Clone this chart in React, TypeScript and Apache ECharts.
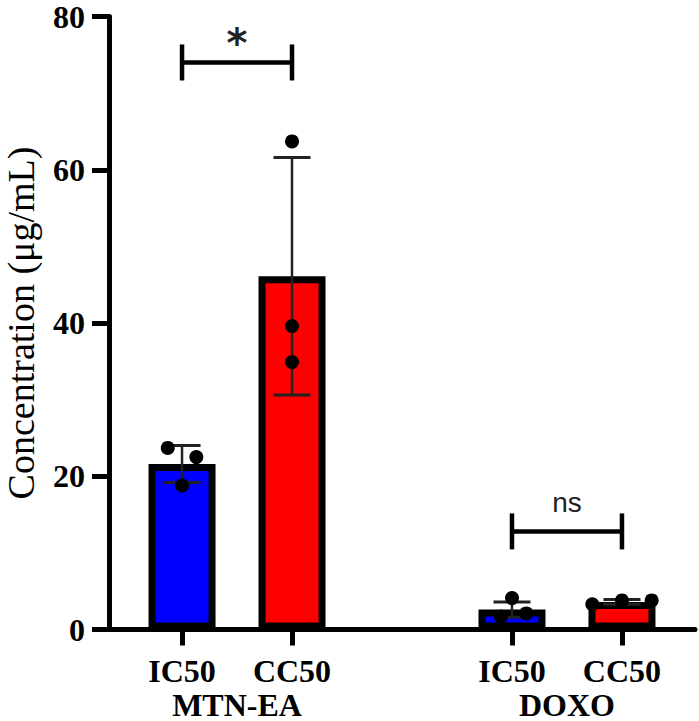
import React, { useEffect, useRef } from "react";
import * as echarts from "echarts";

// ---- data ----
const groups = ["MTN-EA", "DOXO"];
const measures = ["IC50", "CC50"];
const xPositions = [0, 1, 3, 4];
const barMeasures = ["IC50", "CC50", "IC50", "CC50"];
const barGroups = ["MTN-EA", "MTN-EA", "DOXO", "DOXO"];
const means = [21.6, 46.1, 2.6, 3.6];
const sds = [2.4, 15.5, 1.0, 0.3];
const replicates = [
  [23.7, 22.5, 18.8],
  [63.7, 39.6, 34.9],
  [4.1, 1.7, 2.1],
  [3.3, 3.8, 3.8],
];
const jitterOffsets = [
  [-0.13, 0.13, 0],
  [0, 0, 0],
  [0, -0.1, 0.13],
  [-0.27, 0, 0.27],
];
const sigFrom = [0, 3];
const sigTo = [1, 4];
const sigHeights = [74, 12.8];
const sigLabels = ["*", "ns"];
const yTicks = { min: 0, max: 80, interval: 20 };

const measureColors: Record<string, string> = { IC50: "#0000FF", CC50: "#FF0000" };
const SERIF = "'Liberation Serif', 'DejaVu Serif', serif";
const SANS = "'Liberation Sans', 'DejaVu Sans', sans-serif";

export default function App() {
  const ref = useRef<HTMLDivElement>(null);

  useEffect(() => {
    if (!ref.current) return;
    const chart = echarts.init(ref.current, undefined, { renderer: "svg" });

    const groupCenters = groups.map((g) => {
      const xs = xPositions.filter((_, i) => barGroups[i] === g);
      return xs.reduce((a, b) => a + b, 0) / xs.length;
    });
    const labelValues = [...xPositions, ...groupCenters];
    const labelFor = (v: number) => {
      const bi = xPositions.findIndex((x) => Math.abs(x - v) < 1e-6);
      if (bi >= 0) return barMeasures[bi];
      const gi = groupCenters.findIndex((x) => Math.abs(x - v) < 1e-6);
      if (gi >= 0) return "\n" + groups[gi];
      return "";
    };

    const scatterData: number[][] = [];
    replicates.forEach((vals, i) =>
      vals.forEach((v, j) => scatterData.push([xPositions[i] + jitterOffsets[i][j], v]))
    );

    const option: any = {
      animation: false,
      backgroundColor: "#ffffff",
      grid: {
        left: 109,
        right: 4,
        top: 16.5,
        bottom: 91.5,
        containLabel: false,
        outerBoundsMode: "none",
      },
      xAxis: {
        type: "value",
        min: -0.664,
        max: 4.664,
        splitLine: { show: false },
        axisLine: { show: true, onZero: false, lineStyle: { color: "#000", width: 5 } },
        axisTick: {
          show: true,
          customValues: xPositions,
          length: 16,
          lineStyle: { color: "#000", width: 5 },
        },
        axisLabel: {
          customValues: labelValues,
          formatter: (v: number) => labelFor(v),
          fontSize: 32,
          fontWeight: "bold",
          fontFamily: SERIF,
          color: "#000",
          lineHeight: 34,
          margin: 24,
        },
      },
      yAxis: {
        type: "value",
        min: yTicks.min,
        max: yTicks.max,
        interval: yTicks.interval,
        splitLine: { show: false },
        axisLine: { show: true, onZero: false, lineStyle: { color: "#000", width: 5 } },
        axisTick: { show: true, length: 17, lineStyle: { color: "#000", width: 5 } },
        axisLabel: {
          fontSize: 32,
          fontWeight: "bold",
          fontFamily: SERIF,
          color: "#000",
          lineHeight: 30,
          margin: 24,
        },
        name: "Concentration (μg/mL)",
        nameLocation: "middle",
        nameRotate: 90,
        nameGap: 69,
        nameTextStyle: { fontSize: 38, fontFamily: SERIF, fontWeight: "normal", color: "#000" },
      },
      series: [
        {
          type: "bar",
          z: 2,
          barWidth: 67,
          data: xPositions.map((x, i) => ({
            value: [x, means[i]],
            itemStyle: { color: measureColors[barMeasures[i]] },
          })),
          itemStyle: { borderColor: "#000", borderWidth: 7 },
        },
        {
          type: "custom",
          z: 3,
          data: xPositions.map((x, i) => [x, means[i] - sds[i], means[i] + sds[i]]),
          renderItem: (params: any, api: any) => {
            const x = api.value(0);
            const lo = api.coord([x, api.value(1)]);
            const hi = api.coord([x, api.value(2)]);
            const half = 18.5;
            const st = { stroke: "#222", lineWidth: 3 };
            return {
              type: "group",
              children: [
                { type: "line", shape: { x1: lo[0], y1: lo[1], x2: hi[0], y2: hi[1] }, style: { stroke: "#222", lineWidth: 2.5 } },
                { type: "line", shape: { x1: hi[0] - half, y1: hi[1], x2: hi[0] + half, y2: hi[1] }, style: st },
                { type: "line", shape: { x1: lo[0] - half, y1: lo[1], x2: lo[0] + half, y2: lo[1] }, style: st },
              ],
            };
          },
        },
        {
          type: "scatter",
          z: 4,
          symbol: "circle",
          symbolSize: 14,
          itemStyle: { color: "#000", opacity: 1 },
          data: scatterData,
        },
        {
          type: "custom",
          z: 5,
          data: sigFrom.map((f, i) => [f, sigTo[i], sigHeights[i], i]),
          renderItem: (params: any, api: any) => {
            const y = api.value(2);
            const a = api.coord([api.value(0), y]);
            const b = api.coord([api.value(1), y]);
            const label = sigLabels[api.value(3)];
            const half = 18;
            const st = { stroke: "#000", lineWidth: 4.5 };
            const isStar = label === "*";
            return {
              type: "group",
              children: [
                { type: "line", shape: { x1: a[0], y1: a[1], x2: b[0], y2: b[1] }, style: st },
                { type: "line", shape: { x1: a[0], y1: a[1] - half, x2: a[0], y2: a[1] + half }, style: st },
                { type: "line", shape: { x1: b[0], y1: b[1] - half, x2: b[0], y2: b[1] + half }, style: st },
                {
                  type: "text",
                  style: {
                    text: label,
                    x: (a[0] + b[0]) / 2,
                    y: a[1] - (isStar ? 19 : 29),
                    align: "center",
                    verticalAlign: "middle",
                    fontSize: isStar ? 40 : 28,
                    fontWeight: isStar ? "bold" : "normal",
                    fontFamily: isStar ? "'DejaVu Sans', sans-serif" : SANS,
                    fill: "#222",
                  },
                },
              ],
            };
          },
        },
      ],
    };

    chart.setOption(option);
    return () => chart.dispose();
  }, []);

  return (
    <div
      ref={ref}
      style={{ position: "absolute", left: 0, top: 0, width: 699, height: 721 }}
    />
  );
}
